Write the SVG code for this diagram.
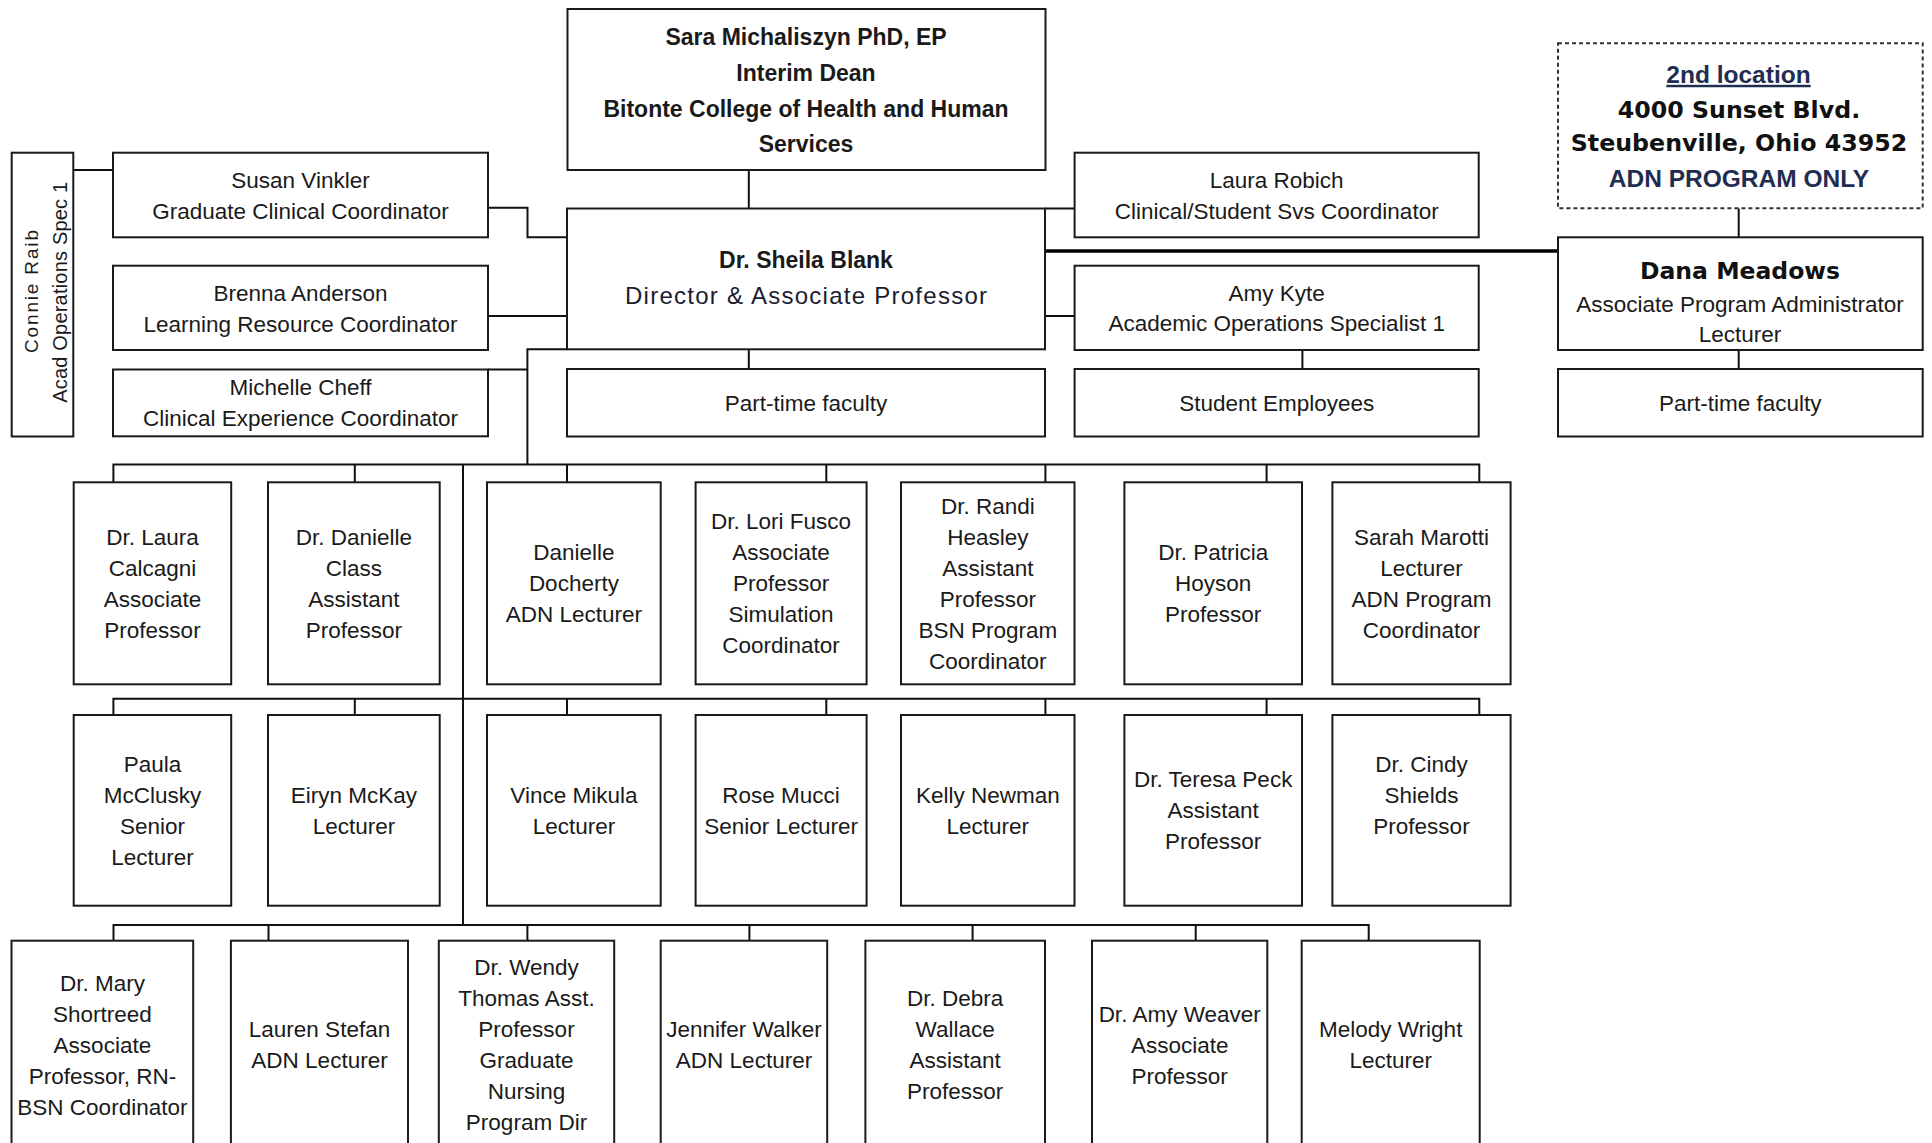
<svg xmlns="http://www.w3.org/2000/svg" width="1932" height="1143" viewBox="0 0 1932 1143">
<style>
.box{fill:#fff;stroke:#1a1a1a;stroke-width:2}
.dash{fill:#fff;stroke:#333;stroke-width:2;stroke-dasharray:4 3}
.ln{fill:none;stroke:#111;stroke-width:2}
.thick{fill:none;stroke:#000;stroke-width:3.5}
text{font-family:"Liberation Sans",Arial,sans-serif;font-size:22.5px;fill:#1a1a1a;text-anchor:middle}
.bold{font-weight:bold;font-size:23px}
.dv{font-family:"DejaVu Sans",Verdana,sans-serif;font-weight:bold;font-size:23.7px;fill:#111}
.navy{font-weight:bold;font-size:24.5px;fill:#1f2d50}
</style>
<rect width="1932" height="1143" fill="#fff"/>

<g id="connectors">
  <path class="ln" d="M748.8 170 V208.5"/>
  <path class="ln" d="M73.5 170 H113"/>
  <path class="ln" d="M488 207.7 H527.5 V237.3 H567"/>
  <path class="ln" d="M488 316 H567"/>
  <path class="ln" d="M1045 208.5 H1074.6"/>
  <path class="ln" d="M1045 316 H1074.6"/>
  <path class="ln" d="M1302.4 350 V369"/>
  <path class="ln" d="M748.8 349.3 V369"/>
  <path class="ln" d="M1738.7 208.3 V237.3"/>
  <path class="ln" d="M1738.7 350 V369"/>
  <path class="thick" d="M1045 251 H1558"/>
  <path class="ln" d="M567 349.3 H527.4 V464.5"/>
  <path class="ln" d="M488 369.5 H527.4"/>
  <path class="ln" d="M113.4 482.3 V464.5 H1479.3 V482.3 M354.8 464.5 V482.3 M567 464.5 V482.3 M826.3 464.5 V482.3 M1045.4 464.5 V482.3 M1266.6 464.5 V482.3"/>
  <path class="ln" d="M463 464.5 V925"/>
  <path class="ln" d="M113.4 715 V698.7 H1479.3 V715 M354.8 698.7 V715 M567 698.7 V715 M826.3 698.7 V715 M1045.4 698.7 V715 M1266.6 698.7 V715"/>
  <path class="ln" d="M113.5 940.7 V925 H1368.7 V940.7 M268.5 925 V940.7 M527.4 925 V940.7 M749.4 925 V940.7 M972.6 925 V940.7 M1195.7 925 V940.7"/>
</g>

<g id="dean">
  <rect class="box" x="567.5" y="9" width="478" height="161"/>
  <text class="bold" x="806" y="45">Sara Michaliszyn PhD, EP</text>
  <text class="bold" x="806" y="80.5">Interim Dean</text>
  <text class="bold" x="806" y="116.5">Bitonte College of Health and Human</text>
  <text class="bold" x="806" y="151.5">Services</text>
</g>

<g id="director">
  <rect class="box" x="567" y="208.5" width="478" height="140.8"/>
  <text class="bold" x="806" y="268.3">Dr. Sheila Blank</text>
  <text x="806" y="304" style="font-size:24px;fill:#1c1c30" textLength="362" lengthAdjust="spacing">Director &amp; Associate Professor</text>
</g>

<g id="connie-raib">
  <rect class="box" x="11.7" y="152.7" width="61.6" height="283.8"/>
  <text transform="translate(38,291.5) rotate(-90)" style="font-size:19px" textLength="123" lengthAdjust="spacing">Connie Raib</text>
  <text transform="translate(66.5,292.3) rotate(-90)" style="font-size:20px" textLength="221" lengthAdjust="spacing">Acad Operations Spec 1</text>
</g>

<g id="susan-vinkler">
  <rect class="box" x="113" y="152.7" width="375" height="84.6"/>
  <text x="300.5" y="187.5">Susan Vinkler</text>
  <text x="300.5" y="218.5">Graduate Clinical Coordinator</text>
</g>

<g id="brenna-anderson">
  <rect class="box" x="113" y="265.7" width="375" height="84.3"/>
  <text x="300.5" y="300.5">Brenna Anderson</text>
  <text x="300.5" y="331.5">Learning Resource Coordinator</text>
</g>

<g id="michelle-cheff">
  <rect class="box" x="113" y="369.5" width="375" height="66.8"/>
  <text x="300.5" y="395.2">Michelle Cheff</text>
  <text x="300.5" y="426.2">Clinical Experience Coordinator</text>
</g>

<g id="laura-robich">
  <rect class="box" x="1074.6" y="152.7" width="404.1" height="84.6"/>
  <text x="1276.7" y="188">Laura Robich</text>
  <text x="1276.7" y="218.7">Clinical/Student Svs Coordinator</text>
</g>

<g id="amy-kyte">
  <rect class="box" x="1074.6" y="265.7" width="404.1" height="84.3"/>
  <text x="1276.7" y="300.7">Amy Kyte</text>
  <text x="1276.7" y="331.3">Academic Operations Specialist 1</text>
</g>

<g id="part-time-faculty">
  <rect class="box" x="567" y="369" width="478" height="67.5"/>
  <text x="806" y="411.2">Part-time faculty</text>
</g>

<g id="student-employees">
  <rect class="box" x="1074.6" y="369" width="404.1" height="67.5"/>
  <text x="1276.7" y="411.2">Student Employees</text>
</g>

<g id="second-location">
  <rect class="dash" x="1558" y="43.3" width="364.7" height="165"/>
  <text class="navy" x="1738.5" y="82.8" text-decoration="underline">2nd location</text>
  <text class="dv" x="1739" y="117.8">4000 Sunset Blvd.</text>
  <text class="dv" x="1739" y="151">Steubenville, Ohio 43952</text>
  <text class="navy" x="1739" y="186.7">ADN PROGRAM ONLY</text>
</g>

<g id="dana-meadows">
  <rect class="box" x="1558" y="237.3" width="364.7" height="112.7"/>
  <text class="dv" x="1740" y="279.3" style="font-size:23.5px">Dana Meadows</text>
  <text x="1740" y="311.7">Associate Program Administrator</text>
  <text x="1740" y="342">Lecturer</text>
</g>

<g id="part-time-faculty-2">
  <rect class="box" x="1558" y="369" width="364.7" height="67.5"/>
  <text x="1740.3" y="411.2">Part-time faculty</text>
</g>

<!-- Row 1 -->
<g id="laura-calcagni">
  <rect class="box" x="73.7" y="482.3" width="157.5" height="202"/>
  <text x="152.5" y="544.8">Dr. Laura<tspan x="152.5" dy="31">Calcagni</tspan><tspan x="152.5" dy="31">Associate</tspan><tspan x="152.5" dy="31">Professor</tspan></text>
</g>
<g id="danielle-class">
  <rect class="box" x="268" y="482.3" width="171.7" height="202"/>
  <text x="353.9" y="544.8">Dr. Danielle<tspan x="353.9" dy="31">Class</tspan><tspan x="353.9" dy="31">Assistant</tspan><tspan x="353.9" dy="31">Professor</tspan></text>
</g>
<g id="danielle-docherty">
  <rect class="box" x="487" y="482.3" width="173.7" height="202"/>
  <text x="573.9" y="560.3">Danielle<tspan x="573.9" dy="31">Docherty</tspan><tspan x="573.9" dy="31">ADN Lecturer</tspan></text>
</g>
<g id="lori-fusco">
  <rect class="box" x="695.6" y="482.3" width="171" height="202"/>
  <text x="781.1" y="529.3">Dr. Lori Fusco<tspan x="781.1" dy="31">Associate</tspan><tspan x="781.1" dy="31">Professor</tspan><tspan x="781.1" dy="31">Simulation</tspan><tspan x="781.1" dy="31">Coordinator</tspan></text>
</g>
<g id="randi-heasley">
  <rect class="box" x="901" y="482.3" width="173.5" height="202"/>
  <text x="987.8" y="513.8">Dr. Randi<tspan x="987.8" dy="31">Heasley</tspan><tspan x="987.8" dy="31">Assistant</tspan><tspan x="987.8" dy="31">Professor</tspan><tspan x="987.8" dy="31">BSN Program</tspan><tspan x="987.8" dy="31">Coordinator</tspan></text>
</g>
<g id="patricia-hoyson">
  <rect class="box" x="1124.4" y="482.3" width="177.6" height="202"/>
  <text x="1213.2" y="560.3">Dr. Patricia<tspan x="1213.2" dy="31">Hoyson</tspan><tspan x="1213.2" dy="31">Professor</tspan></text>
</g>
<g id="sarah-marotti">
  <rect class="box" x="1332.4" y="482.3" width="178.2" height="202"/>
  <text x="1421.5" y="544.8">Sarah Marotti<tspan x="1421.5" dy="31">Lecturer</tspan><tspan x="1421.5" dy="31">ADN Program</tspan><tspan x="1421.5" dy="31">Coordinator</tspan></text>
</g>

<!-- Row 2 -->
<g id="paula-mcclusky">
  <rect class="box" x="73.7" y="715" width="157.5" height="190.7"/>
  <text x="152.5" y="771.8">Paula<tspan x="152.5" dy="31">McClusky</tspan><tspan x="152.5" dy="31">Senior</tspan><tspan x="152.5" dy="31">Lecturer</tspan></text>
</g>
<g id="eiryn-mckay">
  <rect class="box" x="268" y="715" width="171.7" height="190.7"/>
  <text x="353.9" y="802.8">Eiryn McKay<tspan x="353.9" dy="31">Lecturer</tspan></text>
</g>
<g id="vince-mikula">
  <rect class="box" x="487" y="715" width="173.7" height="190.7"/>
  <text x="573.9" y="802.8">Vince Mikula<tspan x="573.9" dy="31">Lecturer</tspan></text>
</g>
<g id="rose-mucci">
  <rect class="box" x="695.6" y="715" width="171" height="190.7"/>
  <text x="781.1" y="802.8">Rose Mucci<tspan x="781.1" dy="31">Senior Lecturer</tspan></text>
</g>
<g id="kelly-newman">
  <rect class="box" x="901" y="715" width="173.5" height="190.7"/>
  <text x="987.8" y="802.8">Kelly Newman<tspan x="987.8" dy="31">Lecturer</tspan></text>
</g>
<g id="teresa-peck">
  <rect class="box" x="1124.4" y="715" width="177.6" height="190.7"/>
  <text x="1213.2" y="787.3">Dr. Teresa Peck<tspan x="1213.2" dy="31">Assistant</tspan><tspan x="1213.2" dy="31">Professor</tspan></text>
</g>
<g id="cindy-shields">
  <rect class="box" x="1332.4" y="715" width="178.2" height="190.7"/>
  <text x="1421.5" y="772">Dr. Cindy<tspan x="1421.5" dy="31">Shields</tspan><tspan x="1421.5" dy="31">Professor</tspan></text>
</g>

<!-- Row 3 -->
<g id="mary-shortreed">
  <rect class="box" x="11.5" y="940.7" width="181.7" height="215"/>
  <text x="102.4" y="990.6">Dr. Mary<tspan x="102.4" dy="31">Shortreed</tspan><tspan x="102.4" dy="31">Associate</tspan><tspan x="102.4" dy="31">Professor, RN-</tspan><tspan x="102.4" dy="31">BSN Coordinator</tspan></text>
</g>
<g id="lauren-stefan">
  <rect class="box" x="230.9" y="940.7" width="177.1" height="215"/>
  <text x="319.5" y="1037.1">Lauren Stefan<tspan x="319.5" dy="31">ADN Lecturer</tspan></text>
</g>
<g id="wendy-thomas">
  <rect class="box" x="438.8" y="940.7" width="175.4" height="215"/>
  <text x="526.5" y="975.1">Dr. Wendy<tspan x="526.5" dy="31">Thomas Asst.</tspan><tspan x="526.5" dy="31">Professor</tspan><tspan x="526.5" dy="31">Graduate</tspan><tspan x="526.5" dy="31">Nursing</tspan><tspan x="526.5" dy="31">Program Dir</tspan></text>
</g>
<g id="jennifer-walker">
  <rect class="box" x="660.7" y="940.7" width="166.5" height="215"/>
  <text x="744" y="1037.1">Jennifer Walker<tspan x="744" dy="31">ADN Lecturer</tspan></text>
</g>
<g id="debra-wallace">
  <rect class="box" x="865.4" y="940.7" width="179.6" height="215"/>
  <text x="955.2" y="1006.1">Dr. Debra<tspan x="955.2" dy="31">Wallace</tspan><tspan x="955.2" dy="31">Assistant</tspan><tspan x="955.2" dy="31">Professor</tspan></text>
</g>
<g id="amy-weaver">
  <rect class="box" x="1092" y="940.7" width="175.3" height="215"/>
  <text x="1179.7" y="1021.6">Dr. Amy Weaver<tspan x="1179.7" dy="31">Associate</tspan><tspan x="1179.7" dy="31">Professor</tspan></text>
</g>
<g id="melody-wright">
  <rect class="box" x="1301.7" y="940.7" width="178" height="215"/>
  <text x="1390.7" y="1037.1">Melody Wright<tspan x="1390.7" dy="31">Lecturer</tspan></text>
</g>
</svg>
